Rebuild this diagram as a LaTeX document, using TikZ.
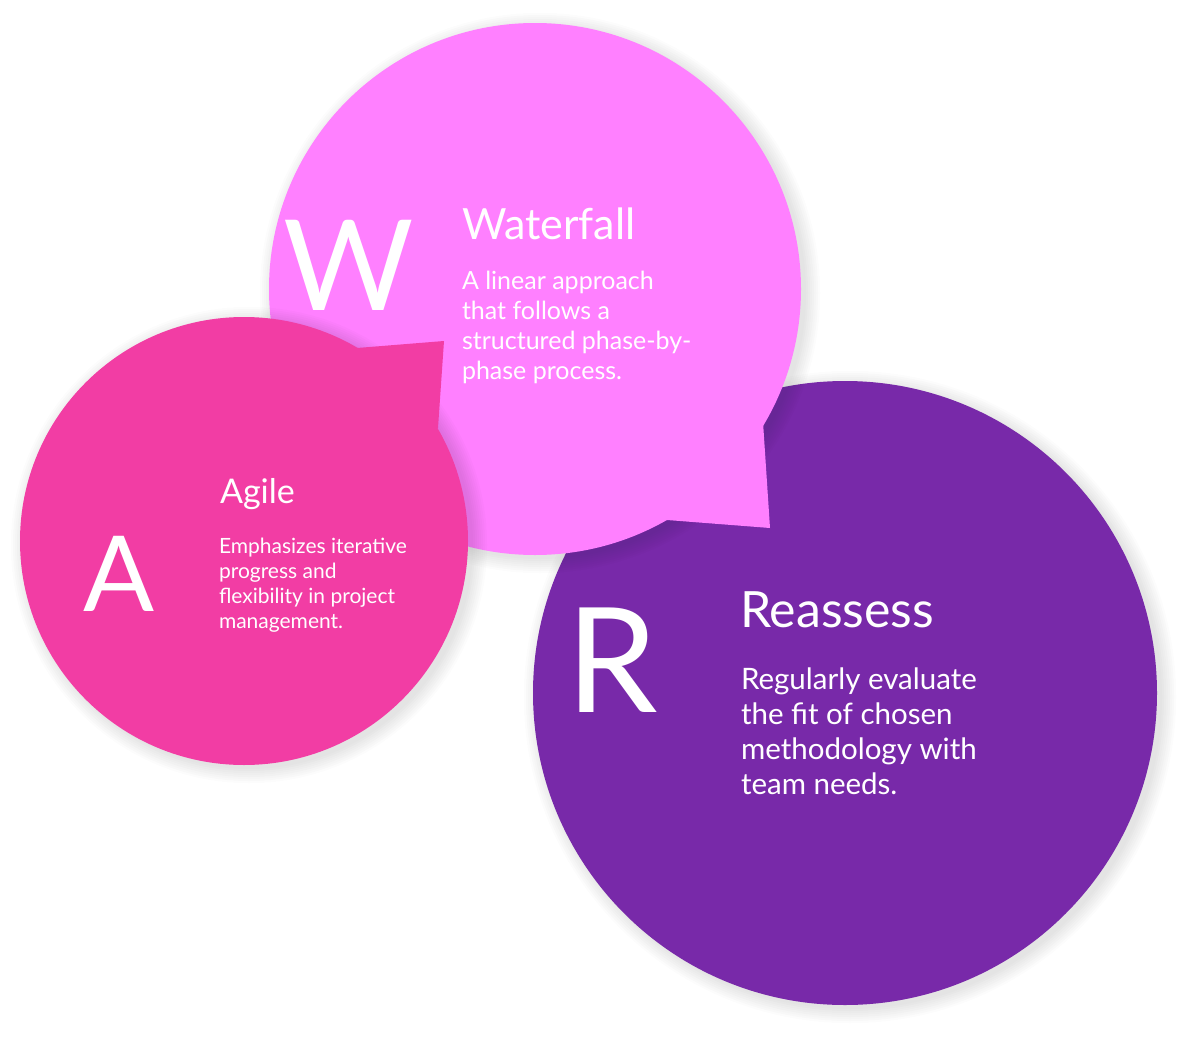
\documentclass[tikz,border=0pt]{standalone}
\usepackage{fontspec}
\setmainfont{Lato}
\usetikzlibrary{calc}
\definecolor{BubbleWaterfall}{HTML}{FF80FF}
\definecolor{BubbleAgile}{HTML}{F23DA4}
\definecolor{BubbleReassess}{HTML}{7829A9}
\definecolor{BubbleShadow}{gray}{0.15}
\tikzset{
    bubble/diagram/.style={
        x=1pt, y=-1pt,
        every node/.style={inner sep=0pt, outer sep=0pt, text=white}
    },
    bubble/shadow/.style={fill=BubbleShadow, opacity=0.016},
    bubble/letter/.style={anchor=base, font=\fontsize{#1}{#1}\selectfont},
    bubble/title/.style={anchor=base west, font=\fontsize{#1}{#1}\selectfont},
    % anchored on the baseline of the last line
    bubble/body/.style 2 args={
        anchor=base west, align=left, font=\fontsize{#1}{#2}\selectfont
    }
}

\begin{document}
\begin{tikzpicture}[bubble/diagram]
    \useasboundingbox (0,0) rectangle (1200,1044);
    % Reassess: the big circle at the bottom right.
    \foreach \k in {1,...,8}
        \fill[bubble/shadow] (850,697) circle ({310+2*\k});
    \fill[BubbleReassess] (845,693) circle (312);
    % Waterfall: circle on top, tail pointing down right.
    \foreach \k in {1,...,8}
        \fill[bubble/shadow] (540,293) circle ({264+2*\k});
    \fill[BubbleWaterfall] (535,289) circle (266);
    \fill[BubbleWaterfall] (535,289) -- (763,422) -- (770,528) -- (667,520) -- cycle;
    % Agile: circle on the left, tail pointing up right.
    \foreach \k in {1,...,8}
        \fill[bubble/shadow] (249,545) circle ({222+2*\k});
    \fill[BubbleAgile] (244,541) circle (224);
    \fill[BubbleAgile] (244,541) -- (357,348) -- (444,341) -- (438,428) -- cycle;
    % Initials.
    \node[bubble/letter=126] (waterfall-letter) at (349,310) {W};
    \node[bubble/letter=105] (agile-letter) at (119,611) {A};
    \node[bubble/letter=146] (reassess-letter) at (612,712) {R};
    % Titles and descriptions.
    \node[bubble/title=43] (waterfall-title) at (462,239) {Waterfall};
    \node[bubble/body={25}{30}] (waterfall-text) at (462,379)
        {A linear approach\\that follows a\\structured phase-by-\\phase process.};
    \node[bubble/title=34] (agile-title) at (220,503) {Agile};
    \node[bubble/body={21}{25}] (agile-text) at (219,628)
        {Emphasizes iterative\\progress and\\flexibility in project\\management.};
    \node[bubble/title=50] (reassess-title) at (740,627) {Reassess};
    \node[bubble/body={29.5}{35}] (reassess-text) at (741,794)
        {Regularly evaluate\\the fit of chosen\\methodology with\\team needs.};
\end{tikzpicture}
\end{document}
